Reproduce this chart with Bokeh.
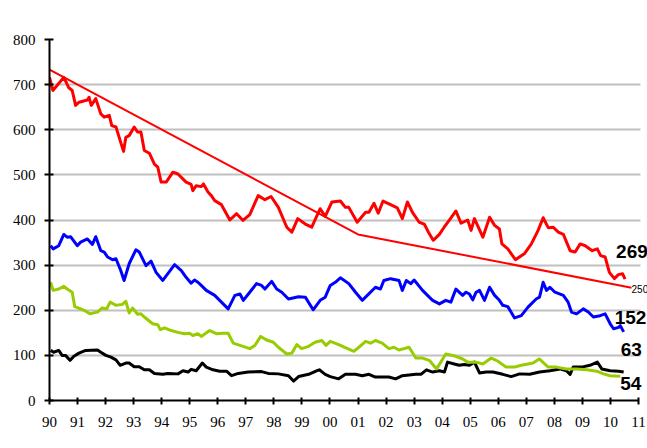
from bokeh.plotting import figure
from bokeh.models import Label, FixedTicker, Range1d
from bokeh.embed import file_html
from bokeh.resources import INLINE

# ---- data ----
red_years = [1990.00, 1990.12, 1990.51, 1990.69, 1990.81, 1990.93, 1991.05, 1991.35, 1991.41, 1991.49,
             1991.65, 1991.83, 1991.95, 1992.13, 1992.22, 1992.37, 1992.52, 1992.64, 1992.72, 1992.84,
             1993.02, 1993.14, 1993.26, 1993.38, 1993.56, 1993.74, 1993.86, 1993.98, 1994.16, 1994.40,
             1994.58, 1994.87, 1995.05, 1995.11, 1995.23, 1995.41, 1995.49, 1995.65, 1995.77, 1995.89,
             1996.13, 1996.43, 1996.67, 1996.90, 1997.14, 1997.44, 1997.68, 1997.90, 1998.16, 1998.46,
             1998.64, 1998.85, 1999.12, 1999.35, 1999.65, 1999.83, 2000.07, 2000.37, 2000.55, 2000.67,
             2000.97, 2001.27, 2001.39, 2001.57, 2001.72, 2001.89, 2002.16, 2002.40, 2002.58, 2002.76,
             2002.94, 2003.18, 2003.36, 2003.51, 2003.68, 2003.90, 2004.07, 2004.25, 2004.49, 2004.67,
             2004.91, 2005.03, 2005.15, 2005.45, 2005.69, 2005.87, 2006.04, 2006.13, 2006.34, 2006.61,
             2006.94, 2007.18, 2007.42, 2007.60, 2007.78, 2007.96, 2008.14, 2008.32, 2008.56, 2008.74,
             2008.92, 2009.10, 2009.35, 2009.53, 2009.65, 2009.81, 2009.96, 2010.14, 2010.28, 2010.43,
             2010.52]
red_vals = [716, 687, 716, 693, 687, 654, 661, 666, 672, 654,
            669, 635, 628, 632, 609, 606, 576, 552, 583, 587,
            606, 595, 595, 554, 548, 524, 517, 484, 484, 506,
            502, 484, 479, 465, 476, 474, 480, 462, 454, 443,
            434, 400, 414, 399, 412, 454, 445, 452, 428, 384,
            373, 403, 391, 384, 425, 408, 440, 442, 428, 428,
            395, 417, 417, 437, 415, 442, 434, 427, 403, 440,
            417, 395, 391, 373, 355, 368, 384, 399, 420, 393,
            400, 377, 403, 362, 406, 388, 380, 347, 336, 312,
            326, 347, 377, 405, 383, 384, 373, 368, 332, 329,
            347, 343, 332, 336, 321, 318, 284, 270, 279, 281,
            269]

blue_years = [1990.04, 1990.13, 1990.33, 1990.51, 1990.63, 1990.75, 1990.99, 1991.11, 1991.35, 1991.53,
              1991.65, 1991.83, 1991.95, 1992.07, 1992.25, 1992.37, 1992.54, 1992.66, 1992.84, 1993.08,
              1993.20, 1993.44, 1993.62, 1993.80, 1994.04, 1994.46, 1994.70, 1994.87, 1995.05, 1995.17,
              1995.29, 1995.41, 1995.59, 1995.89, 1996.13, 1996.37, 1996.61, 1996.79, 1996.91, 1997.14,
              1997.38, 1997.56, 1997.68, 1997.92, 1998.10, 1998.28, 1998.52, 1998.88, 1999.12, 1999.40,
              1999.65, 1999.83, 2000.01, 2000.19, 2000.37, 2000.67, 2000.91, 2001.15, 2001.33, 2001.62,
              2001.80, 2001.92, 2002.16, 2002.46, 2002.58, 2002.72, 2002.88, 2003.00, 2003.30, 2003.54,
              2003.66, 2003.90, 2004.13, 2004.31, 2004.49, 2004.73, 2004.85, 2004.97, 2005.09, 2005.21,
              2005.33, 2005.51, 2005.69, 2005.87, 2006.04, 2006.16, 2006.34, 2006.58, 2006.82, 2007.06,
              2007.35, 2007.47, 2007.60, 2007.72, 2007.84, 2008.02, 2008.32, 2008.49, 2008.61, 2008.79,
              2009.03, 2009.21, 2009.39, 2009.63, 2009.81, 2009.99, 2010.11, 2010.29, 2010.35, 2010.47]
blue_vals = [343, 336, 343, 368, 362, 363, 343, 351, 358, 346,
             363, 332, 329, 318, 312, 314, 288, 266, 303, 334,
             329, 299, 309, 284, 266, 301, 288, 273, 260, 267,
             262, 255, 244, 233, 218, 203, 233, 236, 222, 240,
             259, 255, 247, 264, 247, 240, 225, 230, 229, 201,
             222, 229, 255, 262, 272, 259, 240, 222, 233, 251,
             247, 266, 270, 266, 244, 266, 259, 267, 244, 229,
             222, 214, 222, 218, 247, 233, 240, 236, 223, 240,
             244, 222, 251, 233, 222, 211, 208, 183, 188, 207,
             225, 229, 262, 244, 251, 240, 233, 218, 196, 192,
             203, 196, 185, 188, 192, 170, 159, 162, 166, 152]

green_years = [1990.04, 1990.13, 1990.33, 1990.51, 1990.63, 1990.81, 1990.90, 1991.11, 1991.29, 1991.44,
               1991.71, 1991.88, 1992.04, 1992.16, 1992.37, 1992.60, 1992.72, 1992.84, 1992.96, 1993.14,
               1993.26, 1993.38, 1993.68, 1993.86, 1993.95, 1994.10, 1994.34, 1994.58, 1994.81, 1994.99,
               1995.11, 1995.29, 1995.41, 1995.71, 1995.95, 1996.19, 1996.37, 1996.55, 1996.90, 1997.14,
               1997.32, 1997.53, 1997.74, 1997.98, 1998.16, 1998.46, 1998.64, 1998.82, 1998.99, 1999.24,
               1999.47, 1999.71, 1999.86, 2000.01, 2000.31, 2000.55, 2000.85, 2001.03, 2001.27, 2001.45,
               2001.62, 2001.86, 2002.10, 2002.28, 2002.46, 2002.64, 2002.82, 2003.06, 2003.30, 2003.54,
               2003.80, 2004.13, 2004.49, 2004.73, 2004.91, 2005.21, 2005.45, 2005.75, 2005.99, 2006.28,
               2006.58, 2006.82, 2007.06, 2007.24, 2007.46, 2007.78, 2008.07, 2008.43, 2008.79, 2009.15,
               2009.51, 2009.75, 2009.99, 2010.35]
green_vals = [262, 244, 247, 253, 247, 240, 208, 203, 198, 192,
              196, 205, 203, 218, 211, 213, 220, 194, 205, 191,
              192, 185, 170, 168, 157, 161, 155, 151, 148, 149,
              144, 148, 142, 155, 148, 149, 149, 127, 120, 115,
              122, 142, 134, 129, 118, 103, 105, 124, 115, 120,
              129, 133, 122, 131, 124, 117, 109, 118, 131, 127,
              133, 127, 115, 118, 112, 115, 118, 94, 94, 89,
              70, 103, 98, 92, 85, 85, 81, 94, 87, 74,
              74, 78, 81, 83, 92, 74, 74, 70, 70, 68,
              65, 59, 55, 54]

black_years = [1990.04, 1990.15, 1990.33, 1990.45, 1990.57, 1990.73, 1990.87, 1991.05, 1991.29, 1991.71,
               1991.83, 1992.01, 1992.19, 1992.37, 1992.52, 1992.72, 1992.84, 1993.02, 1993.20, 1993.38,
               1993.56, 1993.74, 1994.04, 1994.22, 1994.58, 1994.76, 1994.94, 1995.05, 1995.23, 1995.45,
               1995.59, 1995.83, 1996.07, 1996.31, 1996.49, 1996.73, 1997.08, 1997.56, 1997.80, 1998.16,
               1998.52, 1998.70, 1998.88, 1999.24, 1999.54, 1999.62, 1999.83, 2000.01, 2000.31, 2000.55,
               2000.91, 2001.15, 2001.39, 2001.62, 2002.10, 2002.34, 2002.58, 2003.06, 2003.24, 2003.44,
               2003.66, 2003.90, 2004.08, 2004.19, 2004.43, 2004.61, 2004.79, 2004.97, 2005.15, 2005.33,
               2005.57, 2005.81, 2006.16, 2006.46, 2006.76, 2007.12, 2007.47, 2007.84, 2008.20, 2008.43,
               2008.56, 2008.67, 2008.97, 2009.27, 2009.53, 2009.69, 2009.99, 2010.29, 2010.47]
black_vals = [111, 107, 111, 100, 100, 89, 98, 105, 111, 112,
              107, 100, 96, 90, 78, 83, 83, 75, 75, 68,
              68, 60, 58, 60, 59, 66, 63, 69, 66, 83,
              74, 68, 65, 65, 55, 60, 63, 64, 60, 59,
              55, 43, 53, 58, 66, 68, 58, 53, 48, 58,
              58, 55, 58, 52, 52, 48, 55, 58, 58, 68,
              63, 66, 63, 85, 81, 78, 80, 78, 85, 61,
              63, 63, 58, 53, 59, 58, 63, 66, 70, 66,
              58, 74, 74, 78, 85, 70, 66, 65, 63]

trend_years = [1990, 2001, 2010.75]
trend_vals = [733, 368, 250]

x_ticks = list(range(1990, 2012))
x_tick_labels = ["90", "91", "92", "93", "94", "95", "96", "97", "98", "99", "00",
                 "01", "02", "03", "04", "05", "06", "07", "08", "09", "10", "11"]
y_ticks = [0, 100, 200, 300, 400, 500, 600, 700, 800]

# ---- figure ----
# frame runs to the right edge so the end labels are not clipped;
# axis line and gridlines are bounded to the chart's own extent.
p = figure(width=647, height=448, output_backend="svg", toolbar_location=None,
           x_range=Range1d(1990, 2011.32), y_range=Range1d(0, 800),
           min_border_left=49, min_border_right=0, min_border_top=39, min_border_bottom=48)
p.outline_line_color = None
p.background_fill_color = "white"
p.border_fill_color = "white"

p.xgrid.visible = False
p.ygrid.grid_line_color = "#C0C0C0"
p.ygrid.grid_line_width = 2
p.ygrid.cross_bounds = (1990, 2011.07)

for ax in (p.xaxis[0], p.yaxis[0]):
    ax.axis_line_color = "black"
    ax.axis_line_width = 2
    ax.major_tick_line_color = "black"
    ax.major_tick_line_width = 2
    ax.minor_tick_line_color = None
    ax.major_label_text_font = "'Liberation Serif', 'Times New Roman', serif"
    ax.major_label_text_font_size = "15px"
    ax.major_label_text_font_style = "normal"
    ax.major_label_text_color = "black"

p.xaxis.ticker = FixedTicker(ticks=x_ticks)
p.xaxis.bounds = (1990, 2011)
p.xaxis.major_label_overrides = {t: l for t, l in zip(x_ticks, x_tick_labels)}
p.xaxis.major_tick_in = 3
p.xaxis.major_tick_out = 4
p.xaxis.major_label_standoff = 12

p.yaxis.ticker = FixedTicker(ticks=y_ticks)
p.yaxis.major_tick_in = 4
p.yaxis.major_tick_out = 5
p.yaxis.major_label_standoff = 9

p.line(black_years, black_vals, line_color="black", line_width=3, line_join="round")
p.line(green_years, green_vals, line_color="#99CC00", line_width=3, line_join="round")
p.line(blue_years, blue_vals, line_color="#0000FF", line_width=3, line_join="round")
p.line(red_years, red_vals, line_color="#FF0000", line_width=3, line_join="round")
p.line(trend_years, trend_vals, line_color="#FF0000", line_width=2)

def end_label(xs, ys, dx, dy, size="19px", bold=True):
    lab = Label(x=xs[-1], y=ys[-1], text=str(ys[-1]), x_offset=dx, y_offset=dy,
                text_font="'Liberation Sans', Arial, sans-serif", text_font_size=size,
                text_font_style="bold" if bold else "normal",
                text_color="black", text_baseline="middle", text_align="left")
    p.add_layout(lab)

end_label(red_years, red_vals, -9, 28)
end_label(blue_years, blue_vals, -9, 14)
end_label(black_years, black_vals, -3, 23)
end_label(green_years, green_vals, 0, -7)
end_label(trend_years, trend_vals, 0, -1, size="10px", bold=False)

open("out.html", "w").write(file_html(p, INLINE))
